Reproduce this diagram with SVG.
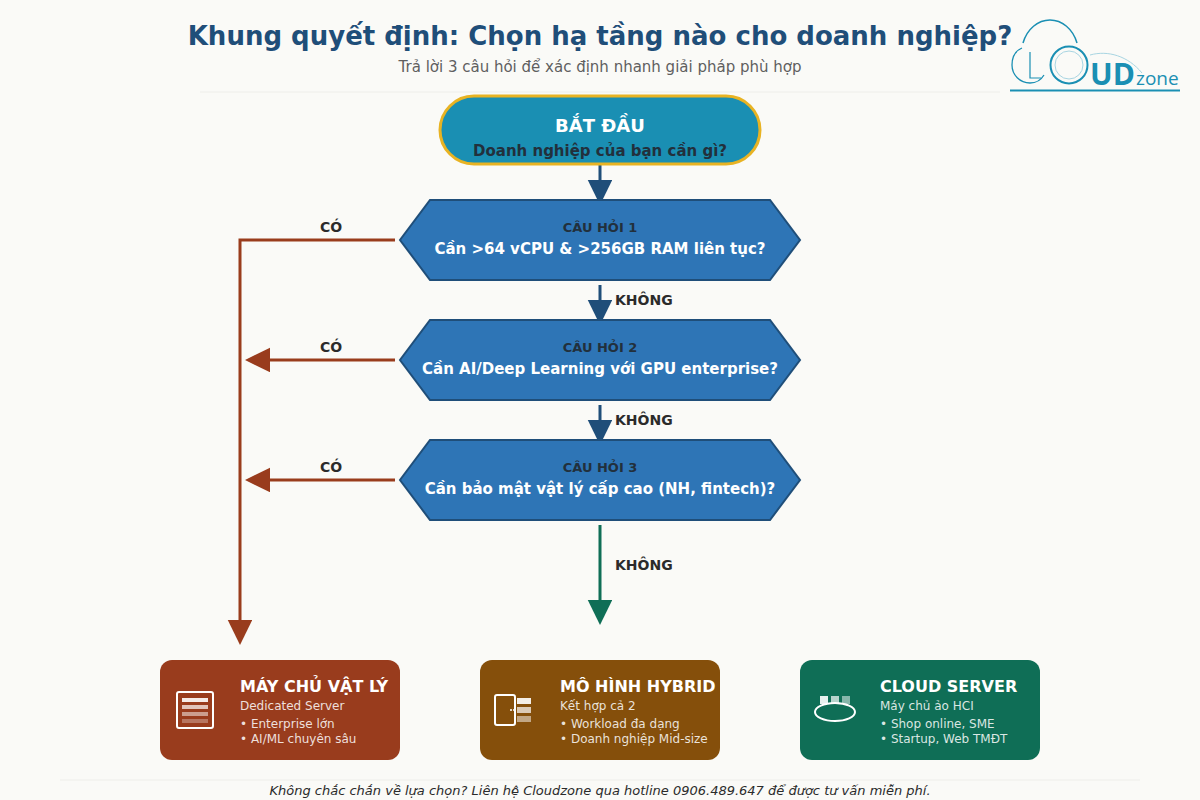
<svg xmlns="http://www.w3.org/2000/svg" width="1200" height="800" viewBox="0 0 1200 800">
<style>
text{font-family:"DejaVu Sans",sans-serif}
.m{text-anchor:middle}
.b{font-weight:700}
.hex{fill:#2e75b6;stroke:#1f4e79;stroke-width:2}
.q{font-size:13px;font-weight:700;fill:#22303c;text-anchor:middle}
.qt{font-size:15px;font-weight:700;fill:#fff;text-anchor:middle}
.lb{font-size:14px;font-weight:700;fill:#2b2b2b}
.ct{font-size:16px;font-weight:700;fill:#fff}
.cs{font-size:12px;fill:#fff;fill-opacity:.85}
.ci{font-size:12px;fill:#fff;fill-opacity:.85}
.a1{stroke:#1f4e79;stroke-width:3;fill:none}
.a2{stroke:#993c1d;stroke-width:3;fill:none}
.a3{stroke:#0f6e56;stroke-width:3;fill:none}
.lg{fill:none;stroke:#1a8fb3}
.lgt{fill:#1a8fb3;font-family:"Open Sans",sans-serif}
</style>
<defs>
<marker id="ab" markerUnits="userSpaceOnUse" markerWidth="26" markerHeight="26" refX="12" refY="12.250" orient="auto"><path d="M0 0L25 12.250L0 24.500Z" fill="#1f4e79"/></marker>
<marker id="ar" markerUnits="userSpaceOnUse" markerWidth="26" markerHeight="26" refX="12" refY="12.250" orient="auto"><path d="M0 0L25 12.250L0 24.500Z" fill="#993c1d"/></marker>
<marker id="ag" markerUnits="userSpaceOnUse" markerWidth="26" markerHeight="26" refX="12" refY="12.250" orient="auto"><path d="M0 0L25 12.250L0 24.500Z" fill="#0f6e56"/></marker>
</defs>
<rect width="1200" height="800" fill="#fafaf7"/>
<g id="header">
<text x="600" y="45" class="m b" font-size="26" fill="#1f4e79">Khung quyết định: Chọn hạ tầng nào cho doanh nghiệp?</text>
<text x="600" y="72" class="m" font-size="15" fill="#5f5f5f">Trả lời 3 câu hỏi để xác định nhanh giải pháp phù hợp</text>
<line x1="200" y1="92" x2="1000" y2="92" stroke="#eeeeea"/>
</g>
<g id="logo">
<path class="lg" stroke-width="1.5" d="M1023 43C1027 29 1038 20 1050 20C1062 20 1073 29 1077 43"/>
<path class="lg" stroke-width="1.3" d="M1022 48C1015 51 1012 58 1012 65C1012 75 1020 83 1030 83C1036 83 1041 80 1044 75"/>
<circle class="lg" stroke-width="2" cx="1069" cy="65" r="18.500"/>
<circle cx="1069" cy="65" r="14" fill="none" stroke="#a8d5e2"/>
<path class="lg" stroke-width="1.2" d="M1030 52V78H1041"/>
<path d="M1090 55C1108 50 1128 56 1142 73" fill="none" stroke="#a8d5e2"/>
<text x="1090" y="85" class="b lgt" font-size="30" style="font-family:'Open Sans',sans-serif">UD</text>
<text x="1136" y="85" class="lgt" font-size="19" style="font-family:'Open Sans',sans-serif">zone</text>
<rect x="1010" y="89.500" width="170" height="2" fill="#1a8fb3"/>
</g>
<g id="connectors">
<path class="a1" d="M600 165V192" marker-end="url(#ab)"/>
<path class="a1" d="M600 285V312" marker-end="url(#ab)"/>
<path class="a1" d="M600 405V432" marker-end="url(#ab)"/>
<path class="a3" d="M600 525V612" marker-end="url(#ag)"/>
<path class="a2" d="M395 240H240V632" marker-end="url(#ar)"/>
<path class="a2" d="M395 360H258" marker-end="url(#ar)"/>
<path class="a2" d="M395 480H258" marker-end="url(#ar)"/>
<text x="320" y="232" class="lb">CÓ</text>
<text x="320" y="352" class="lb">CÓ</text>
<text x="320" y="472" class="lb">CÓ</text>
<text x="615" y="305" class="lb">KHÔNG</text>
<text x="615" y="425" class="lb">KHÔNG</text>
<text x="615" y="570" class="lb">KHÔNG</text>
</g>
<g id="start">
<rect x="440" y="96" width="320" height="68" rx="34" fill="#1a8fb3" stroke="#e8b323" stroke-width="3"/>
<text x="600" y="132" class="m b" font-size="18" fill="#fff">BẮT ĐẦU</text>
<text x="600" y="156" class="m b" font-size="15" fill="#22303c">Doanh nghiệp của bạn cần gì?</text>
</g>
<g id="q1">
<polygon class="hex" points="430,200 770,200 800,240 770,280 430,280 400,240"/>
<text x="600" y="232" class="q">CÂU HỎI 1</text>
<text x="600" y="254" class="qt">Cần &gt;64 vCPU &amp; &gt;256GB RAM liên tục?</text>
</g>
<g id="q2">
<polygon class="hex" points="430,320 770,320 800,360 770,400 430,400 400,360"/>
<text x="600" y="352" class="q">CÂU HỎI 2</text>
<text x="600" y="374" class="qt">Cần AI/Deep Learning với GPU enterprise?</text>
</g>
<g id="q3">
<polygon class="hex" points="430,440 770,440 800,480 770,520 430,520 400,480"/>
<text x="600" y="472" class="q">CÂU HỎI 3</text>
<text x="600" y="494" class="qt">Cần bảo mật vật lý cấp cao (NH, fintech)?</text>
</g>
<g id="dedicated">
<rect x="160" y="660" width="240" height="100" rx="12" fill="#993c1d"/>
<rect x="177" y="692" width="36" height="36" rx="2" fill="none" stroke="#fff" stroke-width="2"/>
<rect x="182" y="698" width="26" height="4" fill="#fff" fill-opacity=".9"/>
<rect x="182" y="705" width="26" height="4" fill="#fff" fill-opacity=".7"/>
<rect x="182" y="712" width="26" height="4" fill="#fff" fill-opacity=".5"/>
<rect x="182" y="719" width="26" height="4" fill="#fff" fill-opacity=".3"/>
<text x="240" y="692" class="ct">MÁY CHỦ VẬT LÝ</text>
<text x="240" y="710" class="cs">Dedicated Server</text>
<text x="240" y="728" class="ci">• Enterprise lớn</text>
<text x="240" y="743" class="ci">• AI/ML chuyên sâu</text>
</g>
<g id="hybrid">
<rect x="480" y="660" width="240" height="100" rx="12" fill="#854f0b"/>
<rect x="495" y="695" width="20" height="30" rx="2" fill="none" stroke="#fff" stroke-width="2"/>
<line x1="510" y1="710" x2="515" y2="710" stroke="#fff" stroke-width="1.500" stroke-dasharray="2 1"/>
<rect x="517" y="698" width="14" height="6" fill="#fff" fill-opacity=".9"/>
<rect x="517" y="707" width="14" height="6" fill="#fff" fill-opacity=".7"/>
<rect x="517" y="716" width="14" height="6" fill="#fff" fill-opacity=".5"/>
<text x="560" y="692" class="ct">MÔ HÌNH HYBRID</text>
<text x="560" y="710" class="cs">Kết hợp cả 2</text>
<text x="560" y="728" class="ci">• Workload đa dạng</text>
<text x="560" y="743" class="ci">• Doanh nghiệp Mid-size</text>
</g>
<g id="cloud">
<rect x="800" y="660" width="240" height="100" rx="12" fill="#0f6e56"/>
<rect x="820" y="696" width="8" height="8" fill="#fff" fill-opacity=".9"/>
<rect x="831" y="696" width="8" height="8" fill="#fff" fill-opacity=".7"/>
<rect x="842" y="696" width="8" height="8" fill="#fff" fill-opacity=".5"/>
<ellipse cx="835" cy="712" rx="20" ry="9" fill="none" stroke="#fff" stroke-width="2"/>
<text x="880" y="692" class="ct">CLOUD SERVER</text>
<text x="880" y="710" class="cs">Máy chủ ảo HCI</text>
<text x="880" y="728" class="ci">• Shop online, SME</text>
<text x="880" y="743" class="ci">• Startup, Web TMĐT</text>
</g>
<g id="footer">
<line x1="60" y1="780" x2="1140" y2="780" stroke="#eeeeea"/>
<text x="600" y="795" class="m" font-size="13" font-style="italic" fill="#2b2b2b">Không chắc chắn về lựa chọn? Liên hệ Cloudzone qua hotline 0906.489.647 để được tư vấn miễn phí.</text>
</g>
</svg>
